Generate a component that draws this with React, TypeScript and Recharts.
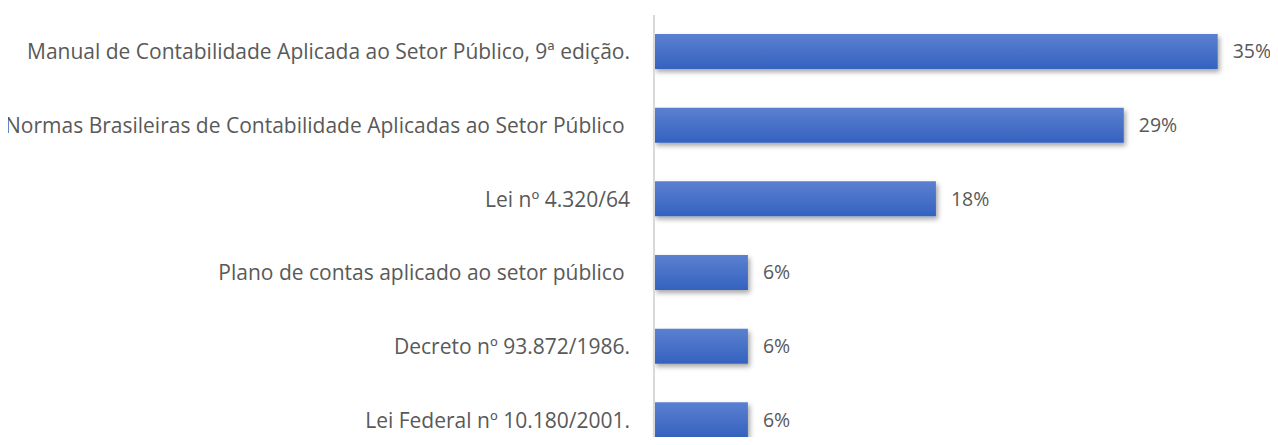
import { Bar, BarChart, LabelList, XAxis, YAxis } from "recharts";

const categories = [
  "Manual de Contabilidade Aplicada ao Setor Público, 9ª edição.",
  "Normas Brasileiras de Contabilidade Aplicadas ao Setor Público\u00a0",
  "Lei nº 4.320/64",
  "Plano de contas aplicado ao setor público\u00a0",
  "Decreto nº 93.872/1986.",
  "Lei Federal nº 10.180/2001.",
];
// shares of 17 answers, in percent
const shares = [35.29, 29.41, 17.65, 5.88, 5.88, 5.88];
const labels = ["35%", "29%", "18%", "6%", "6%", "6%"];

const data = categories.map((name, i) => ({
  name,
  value: shares[i],
  label: labels[i],
}));

const font = "'Open Sans', sans-serif";

const App = () => {
  return (
    <div style={{ margin: -8, width: 1278, height: 445, overflow: "hidden" }}>
      <BarChart
        width={1278}
        height={460}
        data={data}
        layout="vertical"
        margin={{ top: 15, right: 17, left: 0, bottom: 3 }}
        barSize={35}
        style={{ overflow: "visible" }}
      >
        <defs>
          <linearGradient id="barFill" x1="0" y1="0" x2="0" y2="1">
            <stop offset="0%" stopColor="#5b80d0" />
            <stop offset="100%" stopColor="#3462bf" />
          </linearGradient>
          <filter id="barShadow" x="-5%" y="-20%" width="115%" height="160%">
            <feDropShadow dx="2" dy="3" stdDeviation="2.5" floodColor="#000" floodOpacity="0.35" />
          </filter>
        </defs>
        <XAxis type="number" domain={[0, 38]} hide />
        <YAxis
          type="category"
          dataKey="name"
          width={654}
          tickLine={false}
          tickSize={0}
          tickMargin={24}
          axisLine={{ stroke: "#d9d9d9", strokeWidth: 2 }}
          tick={{ fill: "#595959", fontSize: 21, fontFamily: font }}
          interval={0}
        />
        <Bar
          dataKey="value"
          fill="url(#barFill)"
          filter="url(#barShadow)"
          isAnimationActive={false}
        >
          <LabelList
            dataKey="label"
            position="right"
            offset={15}
            fill="#595959"
            fontSize={19.5}
            fontFamily={font}
          />
        </Bar>
      </BarChart>
    </div>
  );
};

export default App;
